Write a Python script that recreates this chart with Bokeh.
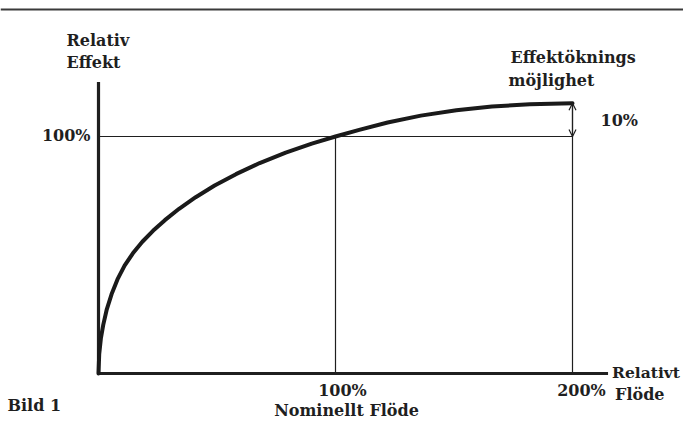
from bokeh.plotting import figure
from bokeh.models import Range1d, Span, Arrow, OpenHead
from bokeh.core.properties import value
from bokeh.embed import file_html
from bokeh.resources import INLINE

# Curve: relative power (%) versus relative flow (%)
flow = [0, 0.3, 1, 2, 3.5, 5.5, 8, 11, 14.5, 18.5, 23, 28, 34, 41, 49, 58, 68, 79, 90,
        100, 110, 122, 136, 151, 166, 182, 200]
power = [0, 8.2, 14.8, 20.5, 27.1, 33.4, 39.7, 45.5, 50.7, 55.6, 60.2, 64.7, 69.5, 74.4,
         79.3, 84.1, 88.8, 93.2, 97.0, 100, 102.8, 105.9, 108.8, 111.1, 112.7, 113.6, 114]

nominal_flow = 100
max_flow = 200
nominal_power = 100
x_axis_end = 215
y_axis_end = 123

x_tick_labels = ["100%", "200%"]
y_tick_label = "100%"
gain_label = "10%"

W, H = 683, 421
X0, Y0 = 98, 373      # pixel position of the origin
SX, SY = 2.37, 2.37   # pixels per percent

p = figure(width=W, height=H, output_backend="svg", toolbar_location=None,
           x_range=Range1d(-X0 / SX, (W - X0) / SX),
           y_range=Range1d(-(H - Y0) / SY, Y0 / SY),
           min_border=0, x_axis_location=None, y_axis_location=None)
p.grid.visible = False
p.outline_line_color = None
p.background_fill_color = "white"
p.border_fill_color = "white"

INK = "#1f1f1f"
FONT = value("DejaVu Serif")

# top rule of the page
p.add_layout(Span(location=(Y0 - 9) / SY, dimension="width", line_color="#3a3a3a", line_width=2))

# reference lines
p.segment(x0=[0, nominal_flow, max_flow], y0=[nominal_power, 0, 0],
          x1=[max_flow, nominal_flow, max_flow], y1=[nominal_power, nominal_power, power[-1]],
          line_color=INK, line_width=1.2)

# axes
p.segment(x0=[0, 0], y0=[0, 0], x1=[x_axis_end, 0], y1=[0, y_axis_end],
          line_color=INK, line_width=3.2)

# curve
p.line(flow, power, line_color="#1a1a1a", line_width=4, line_join="round", line_cap="round")

# double arrow for the 10% gain
p.add_layout(Arrow(start=OpenHead(size=7, line_width=1.2, line_color=INK),
                   end=OpenHead(size=7, line_width=1.2, line_color=INK),
                   x_start=max_flow, y_start=nominal_power, x_end=max_flow, y_end=power[-1],
                   line_color=INK, line_width=1.2))

def txt(x, y, s, align="left", baseline="middle", dx=0, dy=0, size="16px"):
    p.text(x=[x], y=[y], text=[s], text_font=FONT, text_font_style="bold",
           text_font_size=size, text_color=INK, text_align=align,
           text_baseline=baseline, x_offset=dx, y_offset=dy)

# y-axis texts
txt(0, y_axis_end, "Relativ", align="left", dx=-32, dy=-41)
txt(0, y_axis_end, "Effekt", align="left", dx=-32, dy=-19)
txt(0, nominal_power, y_tick_label, align="right", dx=-8, dy=-1)

# x-axis texts
txt(nominal_flow, 0, x_tick_labels[0], align="center", dx=7, dy=17)
txt(nominal_flow, 0, "Nominellt Flöde", align="center", dx=11, dy=37)
txt(max_flow, 0, x_tick_labels[1], align="center", dx=9, dy=17)
txt(x_axis_end, 0, "Relativt", align="left", dx=4, dy=-1, size="15.5px")
txt(x_axis_end, 0, "Flöde", align="left", dx=7, dy=21)
txt(0, 0, "Bild 1", align="left", dx=-91, dy=32)

# gain texts
txt(max_flow, power[-1], "Effektöknings", align="left", dx=-62, dy=-46)
txt(max_flow, power[-1], "möjlighet", align="left", dx=-64, dy=-23)
txt(max_flow, nominal_power, gain_label, align="left", dx=28, dy=-16)

open("out.html", "w").write(file_html(p, INLINE))
